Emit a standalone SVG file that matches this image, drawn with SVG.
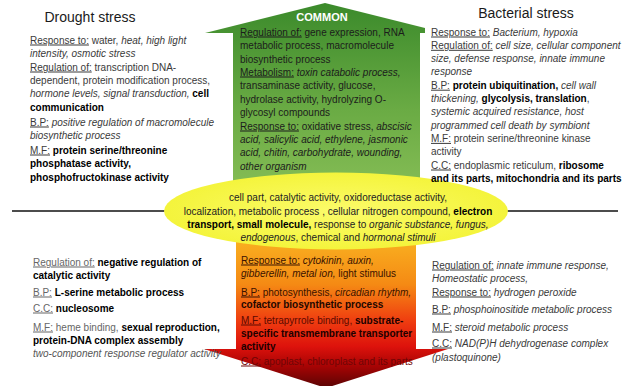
<svg xmlns="http://www.w3.org/2000/svg" width="624" height="386" viewBox="0 0 624 386">
<style>
text{font-family:"Liberation Sans",Arial,sans-serif;font-size:10px;fill:#3a3a3a}
.title{font-size:14px;fill:#1a1a1a}
.b{font-weight:bold;fill:#000}
.i{font-style:italic}
.u{text-decoration:underline}
.g text{fill:#1c1c1c}
.d text{fill:#3a1200}
.c text{fill:#222}
.common{font-weight:bold;font-size:11px;fill:#fff !important}
</style>
<defs>
<linearGradient id="gUp" x1="0" y1="3" x2="0" y2="240" gradientUnits="userSpaceOnUse">
<stop offset="0" stop-color="#3b8a2b"/>
<stop offset="0.45" stop-color="#6aab44"/>
<stop offset="1" stop-color="#96c860"/>
</linearGradient>
<linearGradient id="gDown" x1="0" y1="240" x2="0" y2="388" gradientUnits="userSpaceOnUse">
<stop offset="0" stop-color="#f9b020"/>
<stop offset="0.3" stop-color="#f58a14"/>
<stop offset="0.55" stop-color="#ef3c10"/>
<stop offset="0.72" stop-color="#dd120c"/>
<stop offset="0.85" stop-color="#a80404"/>
<stop offset="1" stop-color="#580404"/>
</linearGradient>
<radialGradient id="gY" cx="0.5" cy="0.5" r="0.5">
<stop offset="0" stop-color="#fbfb6a"/>
<stop offset="1" stop-color="#f4f43c"/>
</radialGradient>
</defs>

<g id="connectors">
<line x1="12" y1="211" x2="170" y2="211" stroke="#111" stroke-width="1.6"/>
<line x1="502" y1="211" x2="618" y2="211" stroke="#111" stroke-width="1.6"/>
</g>

<g id="common-arrow" class="g">
<path d="M233,235 L233,33 L205,33 L325,3 L425,28 L425,33 L420,33 L420,235 Z" fill="url(#gUp)"/>
<text class="common" x="322" y="21" text-anchor="middle">COMMON</text>
<text x="240" y="35.5"><tspan class="u">Regulation of:</tspan>  gene expression, RNA</text>
<text x="240" y="49">metabolic process, macromolecule</text>
<text x="240" y="62.5">biosynthetic process</text>
<text x="240" y="75.5"><tspan class="u">Metabolism:</tspan> <tspan class="i">toxin catabolic process,</tspan></text>
<text x="240" y="89">transaminase activity, glucose,</text>
<text x="240" y="102.5">hydrolase activity, hydrolyzing O-</text>
<text x="240" y="115.5">glycosyl compounds</text>
<text x="240" y="129.5"><tspan class="u">Response to:</tspan> oxidative stress, <tspan class="i">abscisic</tspan></text>
<text x="240" y="142.5" class="i">acid, salicylic acid, ethylene, jasmonic</text>
<text x="240" y="155.5" class="i">acid, chitin, carbohydrate, wounding,</text>
<text x="240" y="169.5" class="i">other organism</text>
</g>

<g id="down-arrow" class="d">
<path d="M236,240 L416,240 L416,349 L448,349 L326,388 L204,349 L236,349 Z" fill="url(#gDown)"/>
<text x="241" y="263.5"><tspan class="u">Response to:</tspan> <tspan class="i">cytokinin, auxin,</tspan></text>
<text x="241" y="276.5"><tspan class="i">gibberellin, metal ion,</tspan> light stimulus</text>
<text x="241" y="295.5"><tspan class="u">B.P:</tspan> photosynthesis, <tspan class="i">circadian rhythm,</tspan></text>
<text x="241" y="307.5" class="b" style="fill:#1e0800">cofactor biosynthetic process</text>
<text x="241" y="323.5" style="fill:#5a0a00"><tspan class="u">M.F:</tspan> tetrapyrrole binding, <tspan class="b" style="fill:#200000">substrate-</tspan></text>
<text x="241" y="336.5" class="b" style="fill:#200000">specific transmembrane transporter</text>
<text x="241" y="349.5" class="b" style="fill:#200000">activity</text>
<text x="241" y="364.5" style="fill:#6e0505"><tspan class="u">C.C:</tspan> apoplast, chloroplast and its parts</text>
</g>

<g id="shared-ellipse" class="c">
<ellipse cx="336" cy="211" rx="172" ry="38.5" fill="url(#gY)"/>
<text x="338" y="200.5" text-anchor="middle">cell part, catalytic activity, oxidoreductase activity,</text>
<text x="338" y="214.5" text-anchor="middle">localization, metabolic process , cellular nitrogen compound, <tspan class="b">electron</tspan></text>
<text x="338" y="227.5" text-anchor="middle"><tspan class="b">transport, small molecule,</tspan> response to <tspan class="i">organic substance, fungus,</tspan></text>
<text x="338" y="240.5" text-anchor="middle"><tspan class="i">endogenous</tspan>, chemical and <tspan class="i">hormonal stimuli</tspan></text>
</g>

<g id="drought-stress">
<text class="title" x="90" y="22" text-anchor="middle">Drought stress</text>
<text x="30" y="43.5"><tspan class="u">Response to:</tspan> water, <tspan class="i">heat, high light</tspan></text>
<text x="30" y="56.5" class="i">intensity, osmotic stress</text>
<text x="30" y="70.5"><tspan class="u">Regulation of:</tspan> transcription DNA-</text>
<text x="30" y="83.5">dependent, protein modification process,</text>
<text x="30" y="96.5"><tspan class="i">hormone levels, signal transduction,</tspan> <tspan class="b">cell</tspan></text>
<text x="30" y="110.5" class="b">communication</text>
<text x="30" y="125.5"><tspan class="u">B.P:</tspan> <tspan class="i">positive regulation of macromolecule</tspan></text>
<text x="30" y="138.5" class="i">biosynthetic process</text>
<text x="30" y="153.5"><tspan class="u">M.F:</tspan> <tspan class="b">protein serine/threonine</tspan></text>
<text x="30" y="166.5" class="b">phosphatase activity,</text>
<text x="30" y="180.5" class="b">phosphofructokinase  activity</text>
</g>

<g id="bacterial-stress">
<text class="title" x="526" y="18" text-anchor="middle">Bacterial stress</text>
<text x="431" y="35.5"><tspan class="u">Response to:</tspan> <tspan class="i">Bacterium, hypoxia</tspan></text>
<text x="431" y="48.8"><tspan class="u">Regulation of:</tspan> <tspan class="i">cell size, cellular component</tspan></text>
<text x="431" y="62.1" class="i">size, defense response, innate immune</text>
<text x="431" y="75.4" class="i">response</text>
<text x="431" y="88.7"><tspan class="u">B.P:</tspan> <tspan class="b">protein ubiquitination,</tspan>  <tspan class="i">cell wall</tspan></text>
<text x="431" y="102"><tspan class="i">thickening,</tspan> <tspan class="b">glycolysis, translation</tspan>,</text>
<text x="431" y="115.3" class="i">systemic acquired resistance, host</text>
<text x="431" y="128.6" class="i">programmed cell death by symbiont</text>
<text x="431" y="141.9"><tspan class="u">M.F:</tspan> protein serine/threonine  kinase</text>
<text x="431" y="155.2">activity</text>
<text x="431" y="168.5"><tspan class="u">C.C:</tspan> endoplasmic reticulum, <tspan class="b">ribosome</tspan></text>
<text x="431" y="181.8" class="b">and its parts, mitochondria  and its parts</text>
</g>

<g id="drought-lower">
<text x="33" y="265.5"><tspan class="u" style="fill:#666">Regulation of:</tspan> <tspan class="b">negative regulation of</tspan></text>
<text x="33" y="278.5" class="b">catalytic activity</text>
<text x="33" y="295.5"><tspan class="u" style="fill:#666">B.P:</tspan> <tspan class="b">L-serine metabolic process</tspan></text>
<text x="33" y="311.5"><tspan class="u" style="fill:#666">C.C:</tspan> <tspan class="b">nucleosome</tspan></text>
<text x="33" y="330.5"><tspan class="u" style="fill:#666">M.F:</tspan> <tspan style="fill:#666">heme binding,</tspan> <tspan class="b">sexual reproduction,</tspan></text>
<text x="33" y="343.5" class="b">protein-DNA complex assembly</text>
<text x="33" y="356.5" class="i" style="fill:#555">two-component response regulator activity</text>
</g>

<g id="bacterial-lower">
<text x="432" y="268.5"><tspan class="u">Regulation of:</tspan> <tspan class="i">innate immune  response,</tspan></text>
<text x="432" y="281.5" class="i">Homeostatic process,</text>
<text x="432" y="295.5"><tspan class="u">Response to:</tspan> <tspan class="i">hydrogen peroxide</tspan></text>
<text x="432" y="312.5"><tspan class="u">B.P:</tspan> <tspan class="i">phosphoinositide metabolic process</tspan></text>
<text x="432" y="330.5"><tspan class="u">M.F:</tspan> <tspan class="i">steroid metabolic process</tspan></text>
<text x="432" y="346.5"><tspan class="u">C.C:</tspan> <tspan class="i">NAD(P)H  dehydrogenase complex</tspan></text>
<text x="432" y="360.5" class="i">(plastoquinone)</text>
</g>
</svg>
